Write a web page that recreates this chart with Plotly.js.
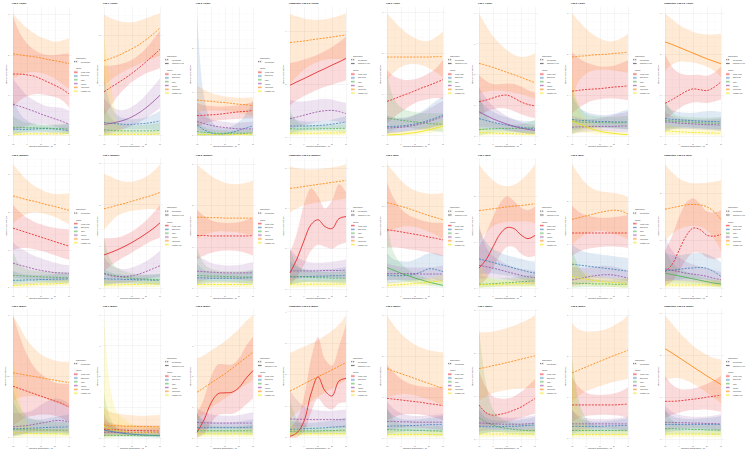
<!DOCTYPE html>
<html>
<head>
<meta charset="utf-8">
<script src="https://cdn.plot.ly/plotly-3.0.1.min.js"></script>
<style>
  html, body { margin: 0; padding: 0; background: #ffffff; }
  #chart { width: 750px; height: 455px; }
</style>
</head>
<body>
<div id="chart"></div>
<script>
// Expected daily counts by theme against minimum temperature, per lag and subgroup.
const TEMP = [-10, -5, 0, 5, 10, 15, 20, 25, 30];
const THEMES = ['Mental Health', 'Basic Needs', 'Safety', 'Isolation', 'Interpersonal', 'Substance Use'];
const SIG_LABELS = ['Not Significant', 'Significant (p<0.05)'];
const PANEL_TITLES = [
  'Lag 0 (Youth)', 'Lag 1 (Youth)', 'Lag 2 (Youth)', 'Cumulative Lag 0-2 (Youth)',
  'Lag 0 (Adult)', 'Lag 1 (Adult)', 'Lag 2 (Adult)', 'Cumulative Lag 0-2 (Adult)',
  'Lag 0 (Women)', 'Lag 1 (Women)', 'Lag 2 (Women)', 'Cumulative Lag 0-2 (Women)',
  'Lag 0 (Men)', 'Lag 1 (Men)', 'Lag 2 (Men)', 'Cumulative Lag 0-2 (Men)',
  'Lag 0 (Black)', 'Lag 1 (Black)', 'Lag 2 (Black)', 'Cumulative Lag 0-2 (Black)',
  'Lag 0 (White)', 'Lag 1 (White)', 'Lag 2 (White)', 'Cumulative Lag 0-2 (White)'
];
// indices into THEMES whose curve is significant (p<0.05), one list per panel
const SIGNIFICANT = [
  [], [3], [], [0], [5], [3], [5], [4],
  [], [0], [], [0], [2], [0], [], [2],
  [], [1], [0], [0], [], [], [], [4]
];

// rows follow THEMES order: fitted value, lower and upper 95% bounds
const youthLag0Fit = [
  [1.53, 1.53, 1.51, 1.48, 1.41, 1.33, 1.25, 1.16, 1.04],
  [0.17, 0.16, 0.16, 0.17, 0.18, 0.18, 0.17, 0.15, 0.13],
  [0.21, 0.21, 0.20, 0.20, 0.19, 0.19, 0.18, 0.18, 0.17],
  [0.78, 0.73, 0.67, 0.61, 0.54, 0.48, 0.42, 0.36, 0.29],
  [2.03, 2.01, 1.98, 1.96, 1.93, 1.89, 1.86, 1.83, 1.79],
  [0.04, 0.04, 0.05, 0.05, 0.05, 0.05, 0.05, 0.05, 0.06]];
const youthLag0Lo = [
  [0.71, 0.88, 0.98, 1.03, 1.03, 1.00, 0.96, 0.88, 0.71],
  [0.04, 0.06, 0.08, 0.08, 0.08, 0.08, 0.07, 0.06, 0.04],
  [0.05, 0.08, 0.10, 0.11, 0.11, 0.10, 0.10, 0.08, 0.06],
  [0.13, 0.17, 0.25, 0.29, 0.29, 0.28, 0.23, 0.17, 0.08],
  [1.42, 1.50, 1.56, 1.58, 1.56, 1.50, 1.42, 1.29, 1.17],
  [0.00, 0.01, 0.02, 0.02, 0.02, 0.02, 0.02, 0.01, 0.01]];
const youthLag0Hi = [
  [2.96, 2.54, 2.29, 2.13, 2.04, 2.00, 2.00, 2.03, 2.04],
  [0.90, 0.55, 0.38, 0.30, 0.27, 0.26, 0.26, 0.27, 0.30],
  [0.50, 0.38, 0.32, 0.30, 0.28, 0.28, 0.28, 0.30, 0.32],
  [1.42, 1.19, 1.00, 0.88, 0.79, 0.73, 0.71, 0.69, 0.63],
  [3.04, 2.83, 2.67, 2.54, 2.44, 2.38, 2.33, 2.36, 2.42],
  [0.12, 0.10, 0.09, 0.09, 0.09, 0.09, 0.10, 0.11, 0.12]];

const youthLag1Fit = [
  [0.88, 0.97, 1.06, 1.15, 1.25, 1.36, 1.48, 1.60, 1.73],
  [0.27, 0.25, 0.24, 0.23, 0.23, 0.24, 0.25, 0.27, 0.30],
  [0.12, 0.11, 0.10, 0.10, 0.10, 0.10, 0.10, 0.10, 0.11],
  [0.23, 0.25, 0.28, 0.32, 0.38, 0.46, 0.56, 0.68, 0.81],
  [1.50, 1.55, 1.60, 1.67, 1.74, 1.82, 1.92, 2.03, 2.15],
  [0.04, 0.03, 0.03, 0.03, 0.03, 0.03, 0.03, 0.03, 0.04]];
const youthLag1Lo = [
  [0.40, 0.60, 0.80, 0.95, 1.08, 1.17, 1.25, 1.30, 1.35],
  [0.05, 0.10, 0.12, 0.13, 0.13, 0.13, 0.13, 0.12, 0.10],
  [0.00, 0.02, 0.03, 0.04, 0.04, 0.04, 0.04, 0.03, 0.02],
  [0.02, 0.05, 0.10, 0.15, 0.20, 0.27, 0.35, 0.45, 0.55],
  [1.00, 1.12, 1.22, 1.30, 1.37, 1.43, 1.50, 1.55, 1.60],
  [0.00, 0.00, 0.00, 0.01, 0.01, 0.01, 0.01, 0.01, 0.01]];
const youthLag1Hi = [
  [1.40, 1.40, 1.42, 1.46, 1.52, 1.62, 1.75, 1.92, 2.10],
  [1.20, 0.60, 0.40, 0.35, 0.33, 0.34, 0.37, 0.42, 0.50],
  [0.60, 0.35, 0.25, 0.22, 0.21, 0.21, 0.22, 0.24, 0.27],
  [0.75, 0.60, 0.52, 0.52, 0.58, 0.68, 0.82, 0.98, 1.15],
  [2.42, 2.35, 2.30, 2.27, 2.27, 2.30, 2.35, 2.40, 2.45],
  [2.00, 1.00, 0.30, 0.10, 0.08, 0.08, 0.08, 0.09, 0.10]];

const youthLag2Fit = [
  [0.46, 0.47, 0.48, 0.49, 0.51, 0.53, 0.55, 0.56, 0.58],
  [0.25, 0.14, 0.07, 0.04, 0.05, 0.08, 0.13, 0.18, 0.23],
  [0.10, 0.08, 0.07, 0.06, 0.06, 0.06, 0.06, 0.06, 0.07],
  [0.33, 0.28, 0.24, 0.21, 0.19, 0.17, 0.16, 0.16, 0.16],
  [0.82, 0.80, 0.79, 0.77, 0.76, 0.74, 0.72, 0.71, 0.69],
  [0.03, 0.03, 0.03, 0.03, 0.03, 0.03, 0.03, 0.03, 0.03]];
const youthLag2Lo = [
  [0.20, 0.27, 0.32, 0.35, 0.37, 0.38, 0.39, 0.40, 0.40],
  [0.02, 0.01, 0.00, 0.00, 0.00, 0.01, 0.03, 0.05, 0.07],
  [0.00, 0.01, 0.02, 0.02, 0.02, 0.02, 0.02, 0.02, 0.01],
  [0.12, 0.10, 0.09, 0.08, 0.07, 0.07, 0.06, 0.06, 0.05],
  [0.55, 0.57, 0.58, 0.58, 0.57, 0.55, 0.52, 0.49, 0.46],
  [0.00, 0.00, 0.00, 0.00, 0.00, 0.00, 0.00, 0.00, 0.00]];
const youthLag2Hi = [
  [0.75, 0.70, 0.68, 0.67, 0.67, 0.68, 0.70, 0.73, 0.78],
  [2.80, 0.90, 0.35, 0.20, 0.18, 0.22, 0.32, 0.50, 0.80],
  [0.35, 0.20, 0.15, 0.13, 0.12, 0.12, 0.13, 0.14, 0.16],
  [0.60, 0.45, 0.38, 0.34, 0.32, 0.30, 0.30, 0.31, 0.33],
  [1.15, 1.05, 0.98, 0.93, 0.90, 0.88, 0.87, 0.87, 0.88],
  [0.10, 0.08, 0.07, 0.07, 0.07, 0.07, 0.07, 0.08, 0.09]];

const youthCumFit = [
  [1.96, 2.09, 2.21, 2.34, 2.47, 2.59, 2.72, 2.84, 2.97],
  [0.42, 0.42, 0.42, 0.43, 0.44, 0.46, 0.49, 0.53, 0.57],
  [0.32, 0.31, 0.31, 0.31, 0.31, 0.32, 0.32, 0.33, 0.33],
  [0.70, 0.76, 0.83, 0.90, 0.96, 1.00, 1.01, 0.97, 0.89],
  [3.57, 3.60, 3.63, 3.67, 3.71, 3.74, 3.78, 3.82, 3.86],
  [0.15, 0.15, 0.15, 0.15, 0.15, 0.16, 0.16, 0.16, 0.17]];
const youthCumLo = [
  [1.20, 1.40, 1.55, 1.68, 1.80, 1.90, 1.98, 2.06, 2.15],
  [0.15, 0.22, 0.27, 0.30, 0.31, 0.32, 0.33, 0.34, 0.34],
  [0.10, 0.15, 0.20, 0.21, 0.22, 0.22, 0.21, 0.20, 0.18],
  [0.30, 0.38, 0.45, 0.52, 0.58, 0.62, 0.62, 0.58, 0.52],
  [2.00, 2.30, 2.55, 2.72, 2.85, 2.92, 2.95, 2.95, 2.92],
  [0.05, 0.06, 0.07, 0.07, 0.07, 0.07, 0.07, 0.07, 0.07]];
const youthCumHi = [
  [2.80, 2.85, 2.93, 3.02, 3.12, 3.25, 3.40, 3.58, 3.80],
  [0.80, 0.65, 0.60, 0.58, 0.60, 0.62, 0.66, 0.72, 0.80],
  [1.00, 0.60, 0.48, 0.45, 0.44, 0.45, 0.46, 0.48, 0.50],
  [1.40, 1.35, 1.35, 1.38, 1.42, 1.45, 1.42, 1.35, 1.30],
  [4.65, 4.55, 4.48, 4.44, 4.43, 4.45, 4.50, 4.58, 4.68],
  [0.30, 0.27, 0.25, 0.25, 0.25, 0.26, 0.27, 0.28, 0.30]];

const adultLag0Fit = [
  [0.84, 0.90, 0.97, 1.03, 1.10, 1.17, 1.23, 1.30, 1.37],
  [0.23, 0.23, 0.24, 0.26, 0.29, 0.33, 0.38, 0.44, 0.51],
  [0.43, 0.41, 0.38, 0.36, 0.34, 0.32, 0.30, 0.29, 0.28],
  [0.19, 0.20, 0.21, 0.23, 0.26, 0.30, 0.35, 0.41, 0.47],
  [1.92, 1.92, 1.92, 1.92, 1.92, 1.92, 1.92, 1.93, 1.93],
  [0.02, 0.03, 0.04, 0.06, 0.08, 0.11, 0.15, 0.19, 0.24]];
const adultLag0Lo = [
  [0.30, 0.45, 0.58, 0.70, 0.80, 0.86, 0.90, 0.92, 0.90],
  [0.05, 0.08, 0.10, 0.12, 0.14, 0.17, 0.20, 0.24, 0.28],
  [0.05, 0.15, 0.20, 0.20, 0.18, 0.16, 0.13, 0.11, 0.08],
  [0.05, 0.07, 0.09, 0.11, 0.13, 0.15, 0.18, 0.22, 0.26],
  [1.35, 1.55, 1.68, 1.74, 1.75, 1.72, 1.65, 1.55, 1.42],
  [0.00, 0.00, 0.01, 0.02, 0.03, 0.05, 0.07, 0.10, 0.13]];
const adultLag0Hi = [
  [1.60, 1.45, 1.38, 1.36, 1.38, 1.44, 1.53, 1.65, 1.85],
  [0.50, 0.45, 0.44, 0.46, 0.52, 0.60, 0.72, 0.85, 0.95],
  [1.50, 0.90, 0.70, 0.62, 0.58, 0.56, 0.55, 0.55, 0.56],
  [0.45, 0.42, 0.42, 0.45, 0.50, 0.57, 0.66, 0.76, 0.85],
  [2.99, 2.80, 2.62, 2.48, 2.38, 2.32, 2.32, 2.40, 2.54],
  [0.10, 0.10, 0.11, 0.13, 0.16, 0.20, 0.25, 0.31, 0.38]];

const adultLag1Fit = [
  [1.13, 1.18, 1.25, 1.32, 1.34, 1.25, 1.12, 1.04, 0.99],
  [0.58, 0.52, 0.46, 0.41, 0.37, 0.33, 0.30, 0.27, 0.25],
  [0.22, 0.24, 0.25, 0.26, 0.26, 0.26, 0.26, 0.27, 0.30],
  [0.80, 0.68, 0.57, 0.48, 0.40, 0.33, 0.27, 0.23, 0.20],
  [2.37, 2.31, 2.24, 2.16, 2.08, 2.00, 1.92, 1.83, 1.74],
  [0.12, 0.12, 0.11, 0.10, 0.10, 0.09, 0.08, 0.08, 0.07]];
const adultLag1Lo = [
  [0.70, 0.80, 0.88, 0.92, 0.90, 0.82, 0.72, 0.65, 0.60],
  [0.20, 0.22, 0.22, 0.20, 0.18, 0.15, 0.12, 0.10, 0.08],
  [0.02, 0.08, 0.12, 0.13, 0.13, 0.13, 0.12, 0.10, 0.08],
  [0.30, 0.30, 0.28, 0.24, 0.20, 0.16, 0.12, 0.09, 0.07],
  [1.40, 1.45, 1.48, 1.48, 1.46, 1.42, 1.37, 1.30, 1.22],
  [0.02, 0.03, 0.04, 0.04, 0.04, 0.03, 0.03, 0.02, 0.02]];
const adultLag1Hi = [
  [2.00, 1.80, 1.70, 1.70, 1.72, 1.70, 1.62, 1.50, 1.42],
  [1.20, 0.95, 0.80, 0.70, 0.62, 0.56, 0.52, 0.50, 0.50],
  [1.60, 0.70, 0.45, 0.40, 0.38, 0.38, 0.40, 0.45, 0.55],
  [1.60, 1.25, 0.98, 0.80, 0.66, 0.55, 0.46, 0.40, 0.36],
  [4.00, 3.60, 3.25, 3.00, 2.80, 2.65, 2.58, 2.60, 2.70],
  [0.30, 0.25, 0.22, 0.20, 0.19, 0.18, 0.17, 0.17, 0.17]];

const adultLag2Fit = [
  [1.10, 1.12, 1.14, 1.15, 1.16, 1.18, 1.20, 1.21, 1.23],
  [0.41, 0.39, 0.38, 0.37, 0.36, 0.36, 0.35, 0.35, 0.35],
  [0.37, 0.35, 0.34, 0.34, 0.33, 0.33, 0.33, 0.33, 0.33],
  [0.22, 0.23, 0.23, 0.24, 0.24, 0.24, 0.24, 0.25, 0.25],
  [1.93, 1.95, 1.96, 1.98, 1.99, 2.00, 2.02, 2.03, 2.05],
  [0.37, 0.30, 0.23, 0.17, 0.12, 0.09, 0.07, 0.05, 0.04]];
const adultLag2Lo = [
  [0.55, 0.70, 0.80, 0.87, 0.90, 0.92, 0.92, 0.90, 0.88],
  [0.15, 0.18, 0.20, 0.21, 0.21, 0.21, 0.20, 0.19, 0.18],
  [0.05, 0.12, 0.18, 0.20, 0.20, 0.20, 0.19, 0.18, 0.16],
  [0.08, 0.10, 0.11, 0.12, 0.12, 0.12, 0.11, 0.10, 0.09],
  [0.90, 1.35, 1.52, 1.60, 1.62, 1.62, 1.60, 1.58, 1.55],
  [0.05, 0.08, 0.08, 0.07, 0.05, 0.04, 0.03, 0.02, 0.01]];
const adultLag2Hi = [
  [2.05, 1.90, 1.80, 1.74, 1.70, 1.70, 1.72, 1.78, 1.85],
  [1.00, 0.70, 0.60, 0.55, 0.52, 0.52, 0.55, 0.60, 0.65],
  [1.15, 0.75, 0.55, 0.50, 0.48, 0.47, 0.47, 0.48, 0.50],
  [0.50, 0.45, 0.42, 0.42, 0.44, 0.48, 0.52, 0.56, 0.60],
  [3.00, 2.80, 2.62, 2.48, 2.38, 2.32, 2.32, 2.38, 2.50],
  [1.50, 0.70, 0.40, 0.28, 0.20, 0.15, 0.12, 0.10, 0.09]];

const adultCumFit = [
  [0.81, 0.90, 1.00, 1.10, 1.16, 1.14, 1.12, 1.20, 1.33],
  [0.44, 0.42, 0.41, 0.40, 0.39, 0.38, 0.37, 0.37, 0.36],
  [0.40, 0.38, 0.37, 0.36, 0.35, 0.34, 0.33, 0.33, 0.32],
  [0.36, 0.35, 0.33, 0.32, 0.31, 0.30, 0.29, 0.29, 0.28],
  [2.30, 2.24, 2.17, 2.10, 2.03, 1.96, 1.89, 1.83, 1.77],
  [0.14, 0.13, 0.12, 0.11, 0.10, 0.10, 0.09, 0.09, 0.08]];
const adultCumLo = [
  [0.40, 0.55, 0.68, 0.78, 0.83, 0.83, 0.82, 0.85, 0.90],
  [0.20, 0.22, 0.23, 0.23, 0.22, 0.21, 0.20, 0.19, 0.18],
  [0.10, 0.18, 0.20, 0.20, 0.20, 0.19, 0.18, 0.17, 0.15],
  [0.15, 0.18, 0.19, 0.19, 0.18, 0.17, 0.16, 0.15, 0.13],
  [1.60, 1.75, 1.82, 1.82, 1.80, 1.76, 1.70, 1.60, 1.45],
  [0.03, 0.04, 0.05, 0.05, 0.05, 0.04, 0.04, 0.03, 0.02]];
const adultCumHi = [
  [2.00, 1.70, 1.55, 1.50, 1.50, 1.50, 1.48, 1.55, 1.70],
  [0.80, 0.65, 0.60, 0.58, 0.58, 0.60, 0.62, 0.62, 0.60],
  [0.90, 0.60, 0.50, 0.48, 0.47, 0.46, 0.46, 0.47, 0.48],
  [0.60, 0.50, 0.45, 0.43, 0.42, 0.42, 0.42, 0.43, 0.45],
  [3.00, 2.85, 2.72, 2.62, 2.55, 2.50, 2.48, 2.48, 2.50],
  [0.30, 0.26, 0.23, 0.21, 0.20, 0.19, 0.18, 0.18, 0.18]];

const womenLag0Fit = [
  [1.58, 1.52, 1.46, 1.40, 1.34, 1.28, 1.22, 1.16, 1.10],
  [0.20, 0.20, 0.21, 0.21, 0.22, 0.22, 0.23, 0.23, 0.24],
  [0.33, 0.32, 0.31, 0.30, 0.29, 0.28, 0.28, 0.27, 0.27],
  [0.65, 0.60, 0.55, 0.50, 0.46, 0.43, 0.40, 0.39, 0.38],
  [2.43, 2.38, 2.33, 2.29, 2.24, 2.19, 2.15, 2.10, 2.05],
  [0.06, 0.07, 0.08, 0.09, 0.10, 0.10, 0.11, 0.12, 0.13]];
const womenLag0Lo = [
  [1.00, 1.05, 1.05, 1.02, 0.98, 0.92, 0.86, 0.80, 0.74],
  [0.06, 0.08, 0.10, 0.11, 0.12, 0.12, 0.12, 0.12, 0.12],
  [0.10, 0.15, 0.17, 0.17, 0.16, 0.15, 0.14, 0.14, 0.14],
  [0.25, 0.25, 0.24, 0.23, 0.21, 0.20, 0.19, 0.19, 0.20],
  [1.70, 1.85, 1.95, 2.00, 1.98, 1.93, 1.87, 1.78, 1.68],
  [0.00, 0.01, 0.02, 0.03, 0.04, 0.04, 0.05, 0.05, 0.05]];
const womenLag0Hi = [
  [2.20, 2.00, 1.85, 1.75, 1.68, 1.62, 1.58, 1.56, 1.55],
  [0.45, 0.38, 0.35, 0.34, 0.34, 0.35, 0.36, 0.37, 0.38],
  [0.95, 0.60, 0.50, 0.46, 0.44, 0.43, 0.42, 0.42, 0.42],
  [1.20, 1.05, 0.95, 0.85, 0.78, 0.72, 0.66, 0.62, 0.60],
  [3.27, 3.05, 2.85, 2.70, 2.60, 2.52, 2.48, 2.48, 2.50],
  [0.15, 0.15, 0.16, 0.17, 0.18, 0.19, 0.20, 0.21, 0.22]];

const womenLag1Fit = [
  [0.80, 0.86, 0.93, 1.01, 1.10, 1.20, 1.31, 1.43, 1.57],
  [0.23, 0.22, 0.22, 0.21, 0.21, 0.20, 0.20, 0.19, 0.19],
  [0.36, 0.32, 0.29, 0.26, 0.24, 0.23, 0.22, 0.21, 0.21],
  [0.35, 0.30, 0.28, 0.28, 0.30, 0.34, 0.40, 0.47, 0.54],
  [1.91, 1.95, 2.00, 2.04, 2.09, 2.14, 2.19, 2.24, 2.30],
  [0.08, 0.08, 0.08, 0.09, 0.09, 0.09, 0.10, 0.10, 0.10]];
const womenLag1Lo = [
  [0.40, 0.55, 0.66, 0.76, 0.86, 0.96, 1.06, 1.15, 1.22],
  [0.08, 0.10, 0.11, 0.11, 0.11, 0.10, 0.10, 0.09, 0.08],
  [0.05, 0.10, 0.13, 0.13, 0.13, 0.12, 0.11, 0.10, 0.09],
  [0.12, 0.12, 0.12, 0.13, 0.15, 0.18, 0.21, 0.25, 0.28],
  [1.40, 1.60, 1.75, 1.82, 1.86, 1.88, 1.90, 1.90, 1.88],
  [0.01, 0.02, 0.02, 0.03, 0.03, 0.03, 0.03, 0.03, 0.03]];
const womenLag1Hi = [
  [1.20, 1.20, 1.22, 1.28, 1.36, 1.48, 1.62, 1.80, 2.00],
  [0.45, 0.38, 0.34, 0.32, 0.31, 0.31, 0.32, 0.33, 0.35],
  [1.20, 0.65, 0.48, 0.40, 0.36, 0.34, 0.33, 0.33, 0.34],
  [0.75, 0.55, 0.48, 0.46, 0.50, 0.56, 0.65, 0.76, 0.90],
  [2.75, 2.68, 2.60, 2.56, 2.56, 2.60, 2.68, 2.80, 2.98],
  [0.20, 0.18, 0.17, 0.17, 0.17, 0.18, 0.18, 0.19, 0.20]];

const womenLag2Fit = [
  [1.28, 1.28, 1.27, 1.27, 1.27, 1.27, 1.27, 1.27, 1.28],
  [0.26, 0.26, 0.25, 0.25, 0.25, 0.25, 0.25, 0.26, 0.26],
  [0.32, 0.31, 0.30, 0.30, 0.29, 0.29, 0.28, 0.28, 0.28],
  [0.42, 0.41, 0.40, 0.39, 0.38, 0.38, 0.38, 0.38, 0.38],
  [1.72, 1.72, 1.71, 1.71, 1.70, 1.70, 1.70, 1.70, 1.70],
  [0.10, 0.10, 0.10, 0.10, 0.10, 0.10, 0.10, 0.10, 0.10]];
const womenLag2Lo = [
  [0.70, 0.80, 0.86, 0.90, 0.92, 0.92, 0.90, 0.86, 0.80],
  [0.10, 0.12, 0.13, 0.14, 0.14, 0.14, 0.13, 0.12, 0.11],
  [0.10, 0.15, 0.17, 0.17, 0.17, 0.16, 0.15, 0.14, 0.13],
  [0.15, 0.20, 0.23, 0.24, 0.24, 0.23, 0.22, 0.20, 0.18],
  [1.20, 1.30, 1.35, 1.38, 1.38, 1.37, 1.35, 1.32, 1.28],
  [0.02, 0.03, 0.04, 0.04, 0.04, 0.04, 0.04, 0.03, 0.03]];
const womenLag2Hi = [
  [1.90, 1.75, 1.65, 1.60, 1.58, 1.58, 1.60, 1.65, 1.72],
  [0.60, 0.45, 0.40, 0.38, 0.37, 0.37, 0.38, 0.40, 0.45],
  [1.00, 0.60, 0.48, 0.44, 0.42, 0.42, 0.42, 0.43, 0.45],
  [0.80, 0.70, 0.62, 0.58, 0.56, 0.56, 0.57, 0.60, 0.64],
  [3.00, 2.85, 2.72, 2.62, 2.55, 2.52, 2.52, 2.55, 2.60],
  [0.22, 0.20, 0.19, 0.18, 0.18, 0.18, 0.18, 0.19, 0.20]];

const womenCumFit = [
  [0.40, 0.75, 1.20, 1.60, 1.72, 1.55, 1.50, 1.75, 1.80],
  [0.30, 0.30, 0.31, 0.31, 0.32, 0.32, 0.33, 0.33, 0.34],
  [0.32, 0.31, 0.30, 0.29, 0.28, 0.28, 0.27, 0.27, 0.27],
  [0.45, 0.45, 0.45, 0.45, 0.45, 0.46, 0.46, 0.46, 0.47],
  [2.50, 2.52, 2.55, 2.57, 2.60, 2.62, 2.65, 2.67, 2.70],
  [0.12, 0.12, 0.12, 0.12, 0.12, 0.12, 0.12, 0.12, 0.12]];
const womenCumLo = [
  [0.10, 0.30, 0.60, 0.95, 1.10, 1.05, 1.00, 1.10, 1.15],
  [0.12, 0.15, 0.17, 0.18, 0.18, 0.18, 0.18, 0.17, 0.16],
  [0.10, 0.15, 0.17, 0.17, 0.16, 0.16, 0.15, 0.14, 0.13],
  [0.20, 0.25, 0.28, 0.29, 0.29, 0.29, 0.28, 0.27, 0.25],
  [1.90, 2.00, 2.08, 2.12, 2.15, 2.17, 2.20, 2.22, 2.25],
  [0.03, 0.04, 0.05, 0.05, 0.05, 0.05, 0.05, 0.04, 0.04]];
const womenCumHi = [
  [0.90, 1.40, 2.10, 2.50, 2.30, 2.00, 2.20, 2.60, 2.40],
  [0.70, 0.55, 0.50, 0.48, 0.48, 0.49, 0.50, 0.52, 0.55],
  [1.00, 0.60, 0.48, 0.44, 0.42, 0.42, 0.42, 0.43, 0.45],
  [1.00, 0.80, 0.70, 0.66, 0.65, 0.66, 0.68, 0.70, 0.74],
  [3.05, 3.00, 2.98, 2.97, 2.98, 3.00, 3.02, 3.05, 3.10],
  [0.30, 0.25, 0.22, 0.21, 0.21, 0.21, 0.22, 0.23, 0.25]];

const menLag0Fit = [
  [1.43, 1.41, 1.38, 1.35, 1.32, 1.29, 1.25, 1.22, 1.18],
  [0.31, 0.30, 0.30, 0.31, 0.34, 0.40, 0.47, 0.45, 0.40],
  [0.50, 0.43, 0.36, 0.30, 0.24, 0.19, 0.14, 0.10, 0.06],
  [0.35, 0.35, 0.35, 0.35, 0.35, 0.34, 0.34, 0.34, 0.34],
  [2.10, 2.06, 2.01, 1.96, 1.90, 1.84, 1.78, 1.73, 1.68],
  [0.06, 0.07, 0.08, 0.09, 0.11, 0.12, 0.14, 0.16, 0.18]];
const menLag0Lo = [
  [1.00, 1.00, 0.98, 0.95, 0.93, 0.90, 0.87, 0.82, 0.78],
  [0.10, 0.12, 0.14, 0.15, 0.17, 0.20, 0.23, 0.20, 0.15],
  [0.20, 0.20, 0.18, 0.15, 0.12, 0.09, 0.06, 0.03, 0.01],
  [0.18, 0.20, 0.20, 0.20, 0.20, 0.19, 0.18, 0.17, 0.15],
  [1.35, 1.45, 1.50, 1.52, 1.50, 1.45, 1.38, 1.30, 1.20],
  [0.00, 0.01, 0.02, 0.03, 0.04, 0.05, 0.06, 0.07, 0.08]];
const menLag0Hi = [
  [2.60, 2.20, 1.95, 1.80, 1.72, 1.66, 1.62, 1.60, 1.60],
  [0.85, 0.70, 0.66, 0.65, 0.70, 0.78, 0.85, 0.85, 0.80],
  [1.60, 0.85, 0.60, 0.45, 0.35, 0.28, 0.22, 0.18, 0.15],
  [0.60, 0.55, 0.52, 0.50, 0.50, 0.50, 0.50, 0.52, 0.55],
  [3.05, 2.85, 2.65, 2.50, 2.40, 2.35, 2.32, 2.32, 2.34],
  [0.15, 0.15, 0.16, 0.18, 0.20, 0.22, 0.25, 0.28, 0.32]];

const menLag1Fit = [
  [0.44, 0.62, 0.90, 1.18, 1.32, 1.30, 1.16, 1.08, 1.15],
  [0.64, 0.60, 0.56, 0.52, 0.48, 0.44, 0.40, 0.36, 0.33],
  [0.09, 0.09, 0.10, 0.11, 0.12, 0.13, 0.14, 0.15, 0.16],
  [0.50, 0.47, 0.44, 0.40, 0.36, 0.32, 0.28, 0.25, 0.23],
  [1.69, 1.71, 1.73, 1.75, 1.77, 1.79, 1.80, 1.82, 1.84],
  [0.07, 0.08, 0.08, 0.09, 0.09, 0.10, 0.10, 0.11, 0.11]];
const menLag1Lo = [
  [0.05, 0.20, 0.45, 0.72, 0.90, 0.90, 0.75, 0.68, 0.70],
  [0.30, 0.32, 0.32, 0.30, 0.28, 0.25, 0.21, 0.17, 0.13],
  [0.01, 0.02, 0.03, 0.04, 0.05, 0.05, 0.05, 0.05, 0.05],
  [0.20, 0.22, 0.22, 0.21, 0.19, 0.16, 0.13, 0.10, 0.08],
  [1.00, 1.20, 1.35, 1.42, 1.45, 1.45, 1.45, 1.45, 1.42],
  [0.01, 0.02, 0.03, 0.03, 0.03, 0.03, 0.03, 0.03, 0.03]];
const menLag1Hi = [
  [0.90, 1.20, 1.55, 1.85, 2.00, 1.90, 1.75, 1.70, 1.78],
  [1.30, 1.00, 0.85, 0.78, 0.72, 0.68, 0.64, 0.60, 0.58],
  [0.30, 0.24, 0.22, 0.22, 0.23, 0.24, 0.26, 0.28, 0.30],
  [1.40, 0.90, 0.70, 0.60, 0.52, 0.46, 0.42, 0.40, 0.38],
  [2.70, 2.50, 2.35, 2.25, 2.22, 2.25, 2.35, 2.50, 2.70],
  [0.60, 0.30, 0.20, 0.18, 0.18, 0.19, 0.20, 0.22, 0.24]];

const menLag2Fit = [
  [1.27, 1.27, 1.27, 1.27, 1.27, 1.27, 1.27, 1.27, 1.27],
  [0.56, 0.54, 0.52, 0.50, 0.48, 0.46, 0.44, 0.42, 0.40],
  [0.13, 0.12, 0.12, 0.11, 0.11, 0.11, 0.10, 0.10, 0.10],
  [0.20, 0.23, 0.26, 0.29, 0.31, 0.32, 0.31, 0.28, 0.24],
  [1.58, 1.62, 1.66, 1.70, 1.74, 1.77, 1.79, 1.77, 1.70],
  [0.28, 0.25, 0.22, 0.19, 0.17, 0.15, 0.14, 0.13, 0.12]];
const menLag2Lo = [
  [0.75, 0.85, 0.90, 0.93, 0.95, 0.96, 0.96, 0.95, 0.93],
  [0.25, 0.26, 0.26, 0.25, 0.24, 0.23, 0.21, 0.19, 0.17],
  [0.02, 0.03, 0.04, 0.04, 0.04, 0.04, 0.04, 0.03, 0.02],
  [0.06, 0.09, 0.12, 0.14, 0.15, 0.15, 0.14, 0.12, 0.10],
  [1.00, 1.15, 1.25, 1.30, 1.32, 1.30, 1.25, 1.20, 1.12],
  [0.05, 0.07, 0.08, 0.07, 0.06, 0.05, 0.04, 0.03, 0.02]];
const menLag2Hi = [
  [1.90, 1.75, 1.68, 1.64, 1.62, 1.62, 1.63, 1.65, 1.68],
  [1.00, 0.90, 0.83, 0.80, 0.78, 0.76, 0.74, 0.72, 0.70],
  [0.90, 0.50, 0.30, 0.22, 0.20, 0.19, 0.19, 0.20, 0.22],
  [0.50, 0.48, 0.48, 0.50, 0.52, 0.52, 0.50, 0.46, 0.42],
  [2.84, 2.60, 2.40, 2.28, 2.22, 2.20, 2.18, 2.15, 2.10],
  [0.70, 0.45, 0.35, 0.30, 0.27, 0.25, 0.24, 0.24, 0.25]];

const menCumFit = [
  [0.35, 0.50, 0.80, 1.10, 1.27, 1.24, 1.12, 1.10, 1.14],
  [0.37, 0.38, 0.40, 0.42, 0.43, 0.44, 0.42, 0.35, 0.25],
  [0.32, 0.29, 0.26, 0.23, 0.20, 0.17, 0.14, 0.11, 0.09],
  [0.41, 0.38, 0.35, 0.32, 0.30, 0.28, 0.25, 0.21, 0.18],
  [1.67, 1.70, 1.73, 1.76, 1.77, 1.76, 1.72, 1.62, 1.45],
  [0.07, 0.07, 0.07, 0.07, 0.07, 0.07, 0.07, 0.07, 0.07]];
const menCumLo = [
  [0.05, 0.15, 0.35, 0.60, 0.75, 0.75, 0.65, 0.62, 0.65],
  [0.15, 0.17, 0.18, 0.20, 0.20, 0.20, 0.18, 0.13, 0.08],
  [0.08, 0.10, 0.10, 0.10, 0.09, 0.08, 0.06, 0.04, 0.02],
  [0.15, 0.16, 0.16, 0.15, 0.14, 0.12, 0.10, 0.07, 0.05],
  [1.00, 1.15, 1.25, 1.30, 1.32, 1.30, 1.22, 1.05, 0.80],
  [0.01, 0.02, 0.02, 0.02, 0.02, 0.02, 0.02, 0.02, 0.01]];
const menCumHi = [
  [0.80, 1.10, 1.50, 1.80, 1.90, 1.78, 1.62, 1.60, 1.65],
  [0.75, 0.70, 0.70, 0.72, 0.74, 0.75, 0.72, 0.65, 0.55],
  [0.80, 0.55, 0.42, 0.35, 0.30, 0.25, 0.21, 0.18, 0.16],
  [1.10, 0.80, 0.65, 0.56, 0.50, 0.46, 0.42, 0.38, 0.35],
  [2.62, 2.45, 2.32, 2.25, 2.22, 2.22, 2.23, 2.25, 2.28],
  [0.20, 0.18, 0.17, 0.16, 0.16, 0.16, 0.17, 0.18, 0.20]];

const blackLag0Fit = [
  [0.42, 0.40, 0.38, 0.36, 0.34, 0.32, 0.30, 0.28, 0.25],
  [0.075, 0.075, 0.078, 0.08, 0.082, 0.085, 0.087, 0.088, 0.09],
  [0.067, 0.066, 0.065, 0.065, 0.064, 0.064, 0.063, 0.063, 0.062],
  [0.09, 0.095, 0.10, 0.11, 0.12, 0.13, 0.14, 0.14, 0.13],
  [0.53, 0.52, 0.51, 0.50, 0.49, 0.48, 0.47, 0.46, 0.45],
  [0.04, 0.04, 0.038, 0.036, 0.035, 0.034, 0.033, 0.032, 0.03]];
const blackLag0Lo = [
  [0.10, 0.14, 0.17, 0.18, 0.19, 0.19, 0.18, 0.16, 0.13],
  [0.02, 0.03, 0.035, 0.04, 0.04, 0.04, 0.04, 0.04, 0.035],
  [0.01, 0.02, 0.03, 0.03, 0.03, 0.03, 0.03, 0.03, 0.02],
  [0.02, 0.03, 0.04, 0.05, 0.05, 0.05, 0.05, 0.05, 0.04],
  [0.30, 0.33, 0.34, 0.34, 0.33, 0.31, 0.29, 0.27, 0.25],
  [0.00, 0.005, 0.01, 0.01, 0.01, 0.01, 0.01, 0.01, 0.01]];
const blackLag0Hi = [
  [1.00, 0.82, 0.68, 0.58, 0.52, 0.48, 0.45, 0.44, 0.44],
  [0.30, 0.20, 0.16, 0.15, 0.15, 0.16, 0.17, 0.18, 0.19],
  [0.40, 0.25, 0.18, 0.15, 0.14, 0.13, 0.13, 0.13, 0.13],
  [0.20, 0.20, 0.21, 0.23, 0.27, 0.30, 0.32, 0.31, 0.28],
  [1.00, 0.90, 0.80, 0.73, 0.68, 0.65, 0.63, 0.62, 0.62],
  [0.70, 0.30, 0.12, 0.08, 0.07, 0.07, 0.07, 0.07, 0.07]];

const blackLag1Fit = [
  [0.30, 0.29, 0.28, 0.27, 0.26, 0.26, 0.25, 0.25, 0.24],
  [0.27, 0.23, 0.19, 0.16, 0.14, 0.12, 0.11, 0.10, 0.09],
  [0.10, 0.10, 0.10, 0.10, 0.10, 0.10, 0.10, 0.10, 0.10],
  [0.20, 0.20, 0.20, 0.20, 0.20, 0.20, 0.20, 0.20, 0.20],
  [0.43, 0.42, 0.41, 0.40, 0.40, 0.39, 0.39, 0.38, 0.38],
  [0.40, 0.30, 0.25, 0.22, 0.20, 0.20, 0.20, 0.20, 0.21]];
const blackLag1Lo = [
  [0.12, 0.15, 0.16, 0.16, 0.16, 0.15, 0.15, 0.14, 0.12],
  [0.12, 0.10, 0.09, 0.08, 0.07, 0.06, 0.05, 0.04, 0.03],
  [0.02, 0.03, 0.04, 0.04, 0.04, 0.04, 0.04, 0.04, 0.03],
  [0.08, 0.10, 0.11, 0.11, 0.11, 0.11, 0.10, 0.10, 0.09],
  [0.20, 0.25, 0.28, 0.30, 0.30, 0.30, 0.29, 0.28, 0.27],
  [0.02, 0.05, 0.07, 0.08, 0.08, 0.08, 0.08, 0.08, 0.07]];
const blackLag1Hi = [
  [0.60, 0.50, 0.45, 0.42, 0.42, 0.42, 0.42, 0.42, 0.42],
  [0.50, 0.40, 0.30, 0.24, 0.20, 0.18, 0.17, 0.16, 0.16],
  [1.50, 0.60, 0.30, 0.20, 0.17, 0.16, 0.16, 0.17, 0.18],
  [0.80, 0.45, 0.35, 0.32, 0.31, 0.31, 0.32, 0.33, 0.35],
  [1.00, 0.85, 0.80, 0.77, 0.75, 0.74, 0.74, 0.75, 0.77],
  [4.00, 1.50, 0.80, 0.60, 0.45, 0.40, 0.38, 0.38, 0.40]];

const blackLag2Fit = [
  [0.20, 0.60, 1.15, 1.45, 1.48, 1.50, 1.65, 1.95, 2.20],
  [0.35, 0.35, 0.35, 0.35, 0.35, 0.35, 0.35, 0.36, 0.37],
  [0.25, 0.25, 0.25, 0.25, 0.25, 0.25, 0.25, 0.25, 0.25],
  [0.52, 0.51, 0.50, 0.50, 0.50, 0.50, 0.50, 0.50, 0.50],
  [1.50, 1.65, 1.80, 1.95, 2.10, 2.27, 2.45, 2.62, 2.80],
  [0.15, 0.15, 0.15, 0.15, 0.15, 0.15, 0.15, 0.15, 0.15]];
const blackLag2Lo = [
  [0.02, 0.15, 0.50, 0.75, 0.80, 0.80, 0.90, 1.10, 1.30],
  [0.15, 0.18, 0.20, 0.20, 0.20, 0.20, 0.20, 0.19, 0.18],
  [0.08, 0.12, 0.13, 0.13, 0.13, 0.13, 0.13, 0.12, 0.11],
  [0.25, 0.30, 0.32, 0.33, 0.33, 0.33, 0.32, 0.30, 0.28],
  [0.60, 0.80, 1.00, 1.15, 1.30, 1.45, 1.60, 1.75, 1.90],
  [0.04, 0.05, 0.06, 0.06, 0.06, 0.06, 0.06, 0.05, 0.05]];
const blackLag2Hi = [
  [0.80, 1.30, 2.00, 2.40, 2.40, 2.40, 2.60, 3.00, 3.30],
  [0.80, 0.60, 0.55, 0.52, 0.52, 0.53, 0.55, 0.58, 0.62],
  [0.80, 0.50, 0.42, 0.40, 0.39, 0.39, 0.40, 0.42, 0.45],
  [1.00, 0.85, 0.78, 0.75, 0.74, 0.74, 0.76, 0.80, 0.85],
  [2.60, 2.70, 2.85, 3.00, 3.15, 3.35, 3.55, 3.80, 4.00],
  [0.35, 0.30, 0.28, 0.27, 0.27, 0.28, 0.29, 0.30, 0.32]];

const blackCumFit = [
  [0.05, 0.16, 0.53, 1.40, 1.94, 1.49, 1.33, 1.81, 1.89],
  [0.27, 0.28, 0.29, 0.30, 0.31, 0.32, 0.34, 0.35, 0.37],
  [0.21, 0.21, 0.22, 0.22, 0.22, 0.23, 0.23, 0.24, 0.24],
  [0.60, 0.59, 0.59, 0.58, 0.58, 0.58, 0.58, 0.58, 0.58],
  [1.49, 1.60, 1.72, 1.83, 1.94, 2.05, 2.16, 2.28, 2.39],
  [0.13, 0.13, 0.13, 0.13, 0.13, 0.13, 0.13, 0.13, 0.13]];
const blackCumLo = [
  [0.00, 0.03, 0.20, 0.80, 1.25, 1.00, 0.90, 1.10, 1.12],
  [0.12, 0.14, 0.15, 0.16, 0.17, 0.18, 0.18, 0.18, 0.18],
  [0.05, 0.09, 0.11, 0.12, 0.12, 0.12, 0.12, 0.12, 0.11],
  [0.30, 0.32, 0.34, 0.35, 0.35, 0.35, 0.34, 0.33, 0.32],
  [0.60, 0.80, 1.00, 1.15, 1.30, 1.45, 1.55, 1.70, 1.85],
  [0.03, 0.04, 0.05, 0.05, 0.05, 0.05, 0.05, 0.04, 0.04]];
const blackCumHi = [
  [0.30, 0.60, 1.30, 2.50, 3.20, 2.50, 2.30, 2.90, 3.60],
  [0.55, 0.50, 0.48, 0.48, 0.50, 0.52, 0.55, 0.60, 0.65],
  [1.20, 0.60, 0.42, 0.36, 0.34, 0.34, 0.35, 0.37, 0.40],
  [1.50, 1.20, 1.00, 0.92, 0.88, 0.86, 0.86, 0.88, 0.90],
  [2.70, 2.80, 2.90, 3.00, 3.10, 3.25, 3.40, 3.60, 3.90],
  [0.60, 0.30, 0.25, 0.24, 0.24, 0.24, 0.25, 0.26, 0.28]];

const whiteLag0Fit = [
  [0.98, 0.96, 0.94, 0.92, 0.90, 0.88, 0.85, 0.83, 0.80],
  [0.30, 0.31, 0.31, 0.32, 0.32, 0.33, 0.34, 0.34, 0.35],
  [0.22, 0.22, 0.21, 0.21, 0.20, 0.20, 0.19, 0.19, 0.18],
  [0.42, 0.42, 0.41, 0.41, 0.40, 0.40, 0.40, 0.40, 0.40],
  [1.70, 1.64, 1.58, 1.52, 1.46, 1.40, 1.34, 1.28, 1.22],
  [0.10, 0.10, 0.10, 0.10, 0.10, 0.10, 0.10, 0.10, 0.10]];
const whiteLag0Lo = [
  [0.45, 0.52, 0.58, 0.60, 0.60, 0.58, 0.55, 0.50, 0.45],
  [0.12, 0.15, 0.17, 0.18, 0.18, 0.18, 0.18, 0.17, 0.16],
  [0.08, 0.10, 0.11, 0.11, 0.11, 0.10, 0.09, 0.08, 0.07],
  [0.20, 0.24, 0.26, 0.27, 0.27, 0.26, 0.25, 0.23, 0.21],
  [1.00, 1.05, 1.08, 1.08, 1.05, 1.00, 0.95, 0.88, 0.80],
  [0.02, 0.03, 0.04, 0.04, 0.04, 0.04, 0.04, 0.03, 0.03]];
const whiteLag0Hi = [
  [1.80, 1.60, 1.45, 1.35, 1.30, 1.27, 1.25, 1.25, 1.27],
  [0.70, 0.55, 0.48, 0.46, 0.46, 0.48, 0.50, 0.53, 0.56],
  [0.80, 0.45, 0.35, 0.32, 0.30, 0.30, 0.30, 0.31, 0.32],
  [0.90, 0.72, 0.62, 0.57, 0.55, 0.55, 0.56, 0.58, 0.60],
  [3.00, 2.75, 2.55, 2.40, 2.28, 2.20, 2.15, 2.12, 2.10],
  [0.22, 0.20, 0.18, 0.17, 0.17, 0.17, 0.18, 0.19, 0.20]];

const whiteLag1Fit = [
  [0.80, 0.62, 0.56, 0.58, 0.62, 0.68, 0.75, 0.85, 0.95],
  [0.30, 0.29, 0.29, 0.29, 0.30, 0.30, 0.31, 0.32, 0.33],
  [0.50, 0.40, 0.33, 0.28, 0.25, 0.23, 0.21, 0.20, 0.20],
  [0.38, 0.37, 0.36, 0.35, 0.35, 0.35, 0.35, 0.36, 0.37],
  [1.65, 1.68, 1.72, 1.75, 1.79, 1.83, 1.87, 1.91, 1.95],
  [0.12, 0.12, 0.12, 0.12, 0.12, 0.12, 0.12, 0.12, 0.12]];
const whiteLag1Lo = [
  [0.30, 0.30, 0.32, 0.36, 0.40, 0.45, 0.50, 0.55, 0.60],
  [0.12, 0.15, 0.16, 0.17, 0.17, 0.17, 0.17, 0.17, 0.16],
  [0.10, 0.15, 0.17, 0.16, 0.14, 0.12, 0.11, 0.10, 0.09],
  [0.18, 0.20, 0.22, 0.22, 0.22, 0.22, 0.21, 0.20, 0.19],
  [0.90, 1.00, 1.08, 1.12, 1.15, 1.17, 1.18, 1.19, 1.20],
  [0.03, 0.04, 0.05, 0.05, 0.05, 0.05, 0.05, 0.04, 0.04]];
const whiteLag1Hi = [
  [1.60, 1.20, 1.00, 0.95, 0.95, 1.00, 1.10, 1.25, 1.40],
  [0.70, 0.50, 0.45, 0.43, 0.43, 0.44, 0.46, 0.48, 0.52],
  [2.60, 1.30, 0.70, 0.50, 0.42, 0.38, 0.36, 0.36, 0.38],
  [0.80, 0.62, 0.55, 0.52, 0.50, 0.50, 0.51, 0.53, 0.56],
  [2.50, 2.50, 2.52, 2.55, 2.60, 2.65, 2.72, 2.80, 2.90],
  [0.30, 0.25, 0.22, 0.21, 0.21, 0.21, 0.22, 0.23, 0.25]];

const whiteLag2Fit = [
  [0.82, 0.82, 0.82, 0.82, 0.82, 0.82, 0.82, 0.83, 0.84],
  [0.30, 0.30, 0.30, 0.30, 0.30, 0.31, 0.31, 0.32, 0.32],
  [0.20, 0.20, 0.20, 0.20, 0.20, 0.20, 0.20, 0.20, 0.20],
  [0.36, 0.36, 0.36, 0.36, 0.36, 0.36, 0.36, 0.36, 0.36],
  [1.60, 1.67, 1.74, 1.81, 1.88, 1.95, 2.02, 2.08, 2.15],
  [0.10, 0.10, 0.10, 0.10, 0.10, 0.10, 0.10, 0.10, 0.10]];
const whiteLag2Lo = [
  [0.40, 0.50, 0.55, 0.57, 0.58, 0.58, 0.57, 0.55, 0.50],
  [0.12, 0.16, 0.18, 0.18, 0.18, 0.18, 0.18, 0.18, 0.17],
  [0.08, 0.10, 0.11, 0.11, 0.11, 0.11, 0.11, 0.10, 0.09],
  [0.18, 0.22, 0.24, 0.25, 0.25, 0.25, 0.24, 0.22, 0.20],
  [0.90, 1.05, 1.15, 1.22, 1.28, 1.33, 1.38, 1.42, 1.45],
  [0.02, 0.03, 0.04, 0.04, 0.04, 0.04, 0.04, 0.03, 0.03]];
const whiteLag2Hi = [
  [1.50, 1.25, 1.12, 1.07, 1.06, 1.07, 1.10, 1.15, 1.25],
  [0.70, 0.50, 0.44, 0.42, 0.42, 0.43, 0.45, 0.47, 0.50],
  [2.00, 0.90, 0.50, 0.35, 0.30, 0.29, 0.29, 0.30, 0.32],
  [0.70, 0.55, 0.50, 0.48, 0.48, 0.48, 0.49, 0.51, 0.54],
  [2.80, 2.65, 2.60, 2.60, 2.62, 2.67, 2.75, 2.85, 3.00],
  [1.80, 0.70, 0.30, 0.20, 0.18, 0.18, 0.18, 0.19, 0.20]];

const whiteCumFit = [
  [0.90, 0.90, 0.91, 0.93, 0.95, 0.97, 1.00, 1.02, 1.05],
  [0.35, 0.35, 0.35, 0.35, 0.35, 0.35, 0.35, 0.35, 0.35],
  [0.25, 0.25, 0.24, 0.24, 0.23, 0.23, 0.22, 0.22, 0.21],
  [0.40, 0.40, 0.39, 0.39, 0.38, 0.38, 0.37, 0.37, 0.36],
  [2.15, 2.05, 1.94, 1.83, 1.72, 1.61, 1.50, 1.40, 1.30],
  [0.12, 0.12, 0.12, 0.12, 0.12, 0.12, 0.12, 0.12, 0.12]];
const whiteCumLo = [
  [0.50, 0.58, 0.63, 0.67, 0.69, 0.70, 0.70, 0.68, 0.65],
  [0.15, 0.18, 0.20, 0.21, 0.21, 0.21, 0.20, 0.19, 0.18],
  [0.10, 0.12, 0.13, 0.13, 0.13, 0.12, 0.11, 0.10, 0.09],
  [0.20, 0.24, 0.26, 0.27, 0.27, 0.26, 0.25, 0.23, 0.20],
  [1.40, 1.45, 1.45, 1.40, 1.32, 1.22, 1.10, 0.98, 0.85],
  [0.03, 0.04, 0.05, 0.05, 0.05, 0.05, 0.05, 0.04, 0.04]];
const whiteCumHi = [
  [1.50, 1.30, 1.20, 1.18, 1.20, 1.25, 1.32, 1.40, 1.50],
  [0.70, 0.55, 0.50, 0.48, 0.48, 0.49, 0.50, 0.52, 0.55],
  [0.70, 0.45, 0.36, 0.34, 0.33, 0.33, 0.33, 0.34, 0.35],
  [0.80, 0.65, 0.58, 0.55, 0.53, 0.53, 0.54, 0.56, 0.60],
  [2.95, 2.75, 2.55, 2.38, 2.22, 2.10, 2.00, 1.93, 1.90],
  [0.25, 0.22, 0.20, 0.19, 0.19, 0.19, 0.20, 0.21, 0.22]];

// panel order follows PANEL_TITLES: [fit, lower, upper]
const PANEL_SERIES = [
  [youthLag0Fit, youthLag0Lo, youthLag0Hi], [youthLag1Fit, youthLag1Lo, youthLag1Hi],
  [youthLag2Fit, youthLag2Lo, youthLag2Hi], [youthCumFit, youthCumLo, youthCumHi],
  [adultLag0Fit, adultLag0Lo, adultLag0Hi], [adultLag1Fit, adultLag1Lo, adultLag1Hi],
  [adultLag2Fit, adultLag2Lo, adultLag2Hi], [adultCumFit, adultCumLo, adultCumHi],
  [womenLag0Fit, womenLag0Lo, womenLag0Hi], [womenLag1Fit, womenLag1Lo, womenLag1Hi],
  [womenLag2Fit, womenLag2Lo, womenLag2Hi], [womenCumFit, womenCumLo, womenCumHi],
  [menLag0Fit, menLag0Lo, menLag0Hi], [menLag1Fit, menLag1Lo, menLag1Hi],
  [menLag2Fit, menLag2Lo, menLag2Hi], [menCumFit, menCumLo, menCumHi],
  [blackLag0Fit, blackLag0Lo, blackLag0Hi], [blackLag1Fit, blackLag1Lo, blackLag1Hi],
  [blackLag2Fit, blackLag2Lo, blackLag2Hi], [blackCumFit, blackCumLo, blackCumHi],
  [whiteLag0Fit, whiteLag0Lo, whiteLag0Hi], [whiteLag1Fit, whiteLag1Lo, whiteLag1Hi],
  [whiteLag2Fit, whiteLag2Lo, whiteLag2Hi], [whiteCumFit, whiteCumLo, whiteCumHi]
];

// ---- styling and page geometry ----
const THEME_COLORS = ['#E41A1C', '#377EB8', '#4DAF4A', '#984EA3', '#FF7F00', '#F2E205'];
const BAND_ALPHA = 0.16;
const FONT = 'Liberation Sans, Arial, sans-serif';
const W = 750, H = 455;
const COL_LEFT = [13, 104, 197, 290, 387, 479, 572, 665];
const DATA_W = 56, PAD = 2.8;
const ROW_TOP = [7, 158, 309], ROW_BOTTOM = [142, 294, 444];
const fx = p => p / W;
const fy = p => 1 - p / H;

function rgba(hex, a) {
  const n = parseInt(hex.slice(1), 16);
  return `rgba(${(n >> 16) & 255},${(n >> 8) & 255},${n & 255},${a})`;
}

const traces = [];
const annotations = [];
const shapes = [];
const layout = {
  width: W, height: H,
  margin: { l: 0, r: 0, t: 0, b: 0 },
  paper_bgcolor: '#ffffff', plot_bgcolor: '#ffffff',
  showlegend: false,
  font: { family: FONT, color: '#333333' }
};

PANEL_SERIES.forEach(([fit, lo, hi], i) => {
  const row = Math.floor(i / 8), col = i % 8, k = i + 1;
  const sfx = k > 1 ? String(k) : '';
  const left = COL_LEFT[col] - PAD, right = COL_LEFT[col] + DATA_W + PAD;
  const top = ROW_TOP[row], bottom = ROW_BOTTOM[row];

  let yMin = Infinity, yMax = -Infinity;
  lo.forEach(r => r.forEach(v => { yMin = Math.min(yMin, v); }));
  hi.forEach(r => r.forEach(v => { yMax = Math.max(yMax, v); }));
  const span = yMax - yMin;

  layout['xaxis' + sfx] = {
    domain: [fx(left), fx(right)], anchor: 'y' + sfx,
    range: [-12, 32], tick0: -10, dtick: 10,
    showgrid: true, gridcolor: '#ebebeb', gridwidth: 0.5,
    minor: { dtick: 5, showgrid: true, gridcolor: '#f4f4f4', gridwidth: 0.3 },
    zeroline: false, showline: false, ticks: '',
    tickfont: { size: 1.6, color: '#4d4d4d' },
    title: { text: 'Minimum Temperature (°C)', font: { size: 2.0, color: '#333' }, standoff: 1 },
    fixedrange: true
  };
  layout['yaxis' + sfx] = {
    domain: [fy(bottom), fy(top)], anchor: 'x' + sfx,
    range: [yMin - 0.05 * span, yMax + 0.05 * span], nticks: 5,
    showgrid: true, gridcolor: '#ebebeb', gridwidth: 0.5,
    minor: { showgrid: true, gridcolor: '#f4f4f4', gridwidth: 0.3 },
    zeroline: false, showline: false, ticks: '',
    tickfont: { size: 1.6, color: '#4d4d4d' },
    title: { text: 'Expected Count per Day', font: { size: 1.8, color: '#333' }, standoff: 1 },
    fixedrange: true
  };

  const xa = 'x' + sfx, ya = 'y' + sfx;
  // confidence ribbons first, so every line sits above them
  THEMES.forEach((name, t) => {
    traces.push({
      type: 'scatter', mode: 'lines', x: TEMP, y: lo[t], xaxis: xa, yaxis: ya,
      line: { width: 0, shape: 'spline' }, hoverinfo: 'skip', showlegend: false
    });
    traces.push({
      type: 'scatter', mode: 'lines', x: TEMP, y: hi[t], xaxis: xa, yaxis: ya,
      line: { width: 0, shape: 'spline' }, fill: 'tonexty',
      fillcolor: rgba(THEME_COLORS[t], BAND_ALPHA), hoverinfo: 'skip', showlegend: false
    });
  });
  THEMES.forEach((name, t) => {
    const sig = SIGNIFICANT[i].includes(t);
    traces.push({
      type: 'scatter', mode: 'lines', name, x: TEMP, y: fit[t], xaxis: xa, yaxis: ya,
      line: { color: THEME_COLORS[t], width: 0.8, shape: 'spline', dash: sig ? 'solid' : '2px,1.3px' },
      showlegend: false
    });
  });

  // panel title
  annotations.push({
    xref: 'paper', yref: 'paper', x: fx(left), y: fy(top), xanchor: 'left', yanchor: 'bottom',
    text: '<b>' + PANEL_TITLES[i] + '</b>', showarrow: false,
    font: { size: 2.3, color: '#222' }, yshift: 0.5
  });

  // per-panel legend: significance keys, then theme keys
  const sigItems = SIGNIFICANT[i].length ? [0, 1] : [0];
  const STEP = 3.8, GAP = 3;
  const nLines = 1 + sigItems.length + 1 + THEMES.length;
  const blockH = (nLines - 1) * STEP + GAP;
  let yy = (top + bottom) / 2 - blockH / 2;
  const kx0 = right + 2.2, kx1 = kx0 + 3.6, tx = kx1 + 1.1;
  const label = (txt, y, size, x) => annotations.push({
    xref: 'paper', yref: 'paper', x: fx(x), y: fy(y), xanchor: 'left', yanchor: 'middle',
    text: txt, showarrow: false, font: { size, color: '#333' }
  });
  const key = (y, lineColor, fillColor, dash) => {
    shapes.push({ type: 'rect', xref: 'paper', yref: 'paper', x0: fx(kx0), x1: fx(kx1),
      y0: fy(y + 1.4), y1: fy(y - 1.4), line: { width: 0 }, fillcolor: fillColor });
    shapes.push({ type: 'line', xref: 'paper', yref: 'paper', x0: fx(kx0), x1: fx(kx1),
      y0: fy(y), y1: fy(y), line: { color: lineColor, width: 0.6, dash } });
  };
  label('Significance', yy, 1.8, kx0);
  sigItems.forEach(s => {
    yy += STEP;
    key(yy, '#333333', '#f0f0f0', s === 0 ? '1.2px,0.8px' : 'solid');
    label(SIG_LABELS[s], yy, 1.4, tx);
  });
  yy += STEP + GAP;
  label('Theme', yy, 1.8, kx0);
  THEMES.forEach((name, t) => {
    yy += STEP;
    key(yy, THEME_COLORS[t], rgba(THEME_COLORS[t], BAND_ALPHA), 'solid');
    label(name, yy, 1.4, tx);
  });
});

layout.annotations = annotations;
layout.shapes = shapes;

Plotly.newPlot('chart', traces, layout, { displayModeBar: false, staticPlot: true });
</script>
</body>
</html>
